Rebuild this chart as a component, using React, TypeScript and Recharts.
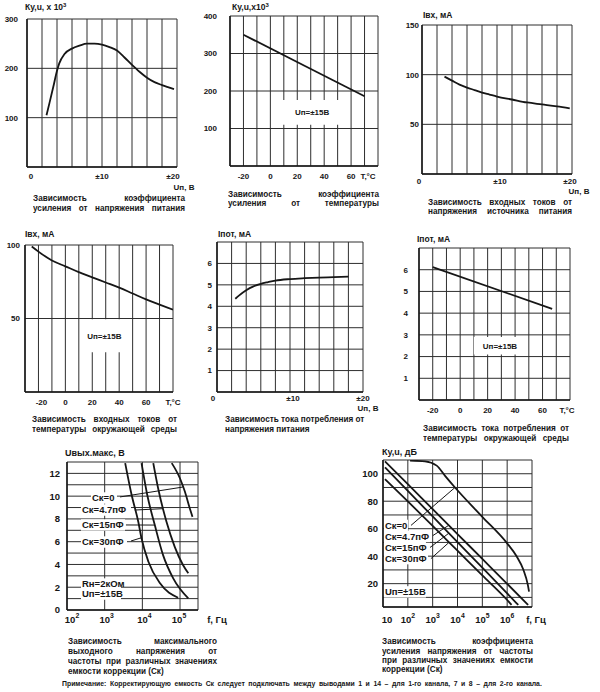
import React from 'react';
import { LineChart, Line, XAxis, YAxis, CartesianGrid, ReferenceArea, ReferenceLine, ReferenceDot } from 'recharts';

const FONT = '"Liberation Sans", Arial, Helvetica, sans-serif';
const INK = '#161616';
const GRID = '#2e2e2e';

// ---- values ----
// 1. Ку,u (x10^3) vs Uп, В
const unA = [2.6, 3, 3.5, 4, 4.3, 5, 6, 7, 8, 9, 10, 11, 12, 13, 14, 15, 16, 17, 18, 19.6];
const gainA = [105, 130, 162, 195, 210, 229, 240, 246, 250, 250, 248, 243, 236, 222, 207, 193, 181, 172, 166, 158];
// 2. Ку,u (x10^3) vs T, °C
const tB = [-20, 25, 70];
const gainB = [350, 268, 186];
// 3. Iвх, мА vs Uп
const unC = [3, 4, 5, 6, 7, 8, 9, 10, 12, 14, 16, 18, 19.7];
const inC = [98, 94, 90, 87, 84.5, 82, 80, 78, 75, 72, 70, 68, 66];
// 4. Iвх, мА vs T
const tD = [-25, -20, -10, 0, 10, 20, 30, 40, 50, 60, 70, 80];
const inD = [99, 95.5, 89.5, 85.5, 81.5, 78, 74.5, 71, 67, 63, 59.5, 56];
// 5. Iпот, мА vs Uп
const unE = [2.5, 3, 4, 5, 6, 7, 8, 10, 12, 14, 16, 18];
const iE = [4.35, 4.5, 4.75, 4.93, 5.05, 5.13, 5.2, 5.27, 5.31, 5.34, 5.36, 5.38];
// 6. Iпот, мА vs T
const tF = [-20, 67];
const iF = [6.12, 4.2];
// 7. Uвых.макс, В vs f, Гц (per Ск)
const fU30 = [3500, 5200, 7800, 9500, 14500, 29500, 89000];
const u30 = [12.9, 10.1, 7.75, 6.3, 4.24, 2.34, 1.08];
const fU15 = [9500, 13500, 21400, 35500, 66000, 166000];
const u15 = [12.9, 10.1, 7.46, 4.82, 2.78, 1.02];
const fU47 = [19500, 26300, 43700, 72400, 120000, 166000];
const u47 = [12.9, 10.67, 7.75, 5.55, 3.95, 3.22];
const fU0 = [60300, 100000, 135000, 182000, 214000];
const u0 = [12.9, 11.55, 10.38, 8.92, 8.18];
// 8. Ку,u, дБ vs f, Гц (per Ск)
const fK0 = [123, 490, 1450, 3160, 7940, 1e5, 1e6, 2.4e6, 4.5e6, 6.8e6, 7.6e6];
const k0 = [109.5, 109, 105.9, 98.5, 90, 68.6, 49.3, 39.9, 30.1, 19.1, 14.2];
const fK47 = [12, 100, 1000, 1e4, 1e5, 1e6, 7e6];
const k47 = [109, 92.4, 74.2, 56.1, 38, 19.9, 4.5];
const fK15 = [12, 100, 1000, 1e4, 1e5, 1e6, 2.8e6];
const k15 = [104.7, 87.6, 68.9, 50.2, 31.6, 12.9, 4.5];
const fK30 = [12, 100, 1000, 1e4, 1e5, 1e6, 1.5e6];
const k30 = [96.1, 79.9, 62, 44, 26, 8.1, 4.5];

const zip = (xs: number[], ys: number[]) => xs.map((x, i) => ({ x, y: ys[i] }));
const steps = (a: number, b: number, s: number) => {
  const out: number[] = [];
  for (let v = a; v <= b + 1e-9; v += s) out.push(Math.round(v * 100) / 100);
  return out;
};

const YW = 40;
const MT = 6;
const MR = 36;
const XH = 30;

type Box = { left: number; top: number; w: number; h: number };
type Tag = { x: number; y: number; text: string; w: number };

interface PanelProps {
  box: Box;
  log?: boolean;
  xDomain: [number, number];
  xTicks: number[];
  xLabels: Record<string, string>;
  xShift?: Record<string, number>;
  xGap: number;
  yDomain: [number, number];
  yTicks: number[];
  yFmt: (v: number) => string;
  yGap: number;
  size: number;
  series: { x: number; y: number }[][];
  curve?: 'monotone' | 'linear';
  boxes?: { x1: number; x2: number; y1: number; y2: number; text: string }[];
  arrows?: { x: number; y: number }[][];
  tags?: Tag[];
}

function makeTick(labels: Record<string, string>, shift: Record<string, number>, size: number) {
  return (props: any) => {
    const { x, y, payload } = props;
    const label = labels[String(payload.value)];
    if (!label) return <g />;
    const [base, sup] = label.split('^');
    return (
      <text x={x + (shift[String(payload.value)] || 0)} y={y} dy="0.71em" textAnchor="middle" fontSize={size} fontWeight={700} fill={INK}>
        {base}
        {sup && (
          <tspan dy={-size * 0.45} fontSize={size * 0.72}>
            {sup}
          </tspan>
        )}
      </text>
    );
  };
}

function tagShape(text: string, w: number, size: number) {
  return (p: any) => (
    <g>
      <rect x={p.cx - 1} y={p.cy - size * 0.6} width={w} height={size * 1.2} fill="#fff" />
      <text x={p.cx} y={p.cy} dy="0.35em" fontSize={size} fontWeight={700} fill={INK}>
        {text}
      </text>
    </g>
  );
}

function Panel(p: PanelProps) {
  const { box } = p;
  const axisLine = { stroke: INK, strokeWidth: 1.5 };
  return (
    <div style={{ position: 'absolute', left: box.left - YW, top: box.top - MT }}>
      <LineChart width={YW + box.w + MR} height={MT + box.h + XH} margin={{ top: MT, right: MR, bottom: 0, left: 0 }}>
        <CartesianGrid stroke={GRID} strokeWidth={1} />
        <XAxis
          type="number"
          dataKey="x"
          scale={p.log ? 'log' : 'linear'}
          domain={p.xDomain}
          ticks={p.xTicks}
          interval={0}
          allowDataOverflow
          height={XH}
          tickLine={false}
          tickSize={0}
          tickMargin={p.xGap}
          axisLine={axisLine}
          tick={makeTick(p.xLabels, p.xShift || {}, p.size)}
        />
        <YAxis
          type="number"
          domain={p.yDomain}
          ticks={p.yTicks}
          interval={0}
          allowDataOverflow
          width={YW}
          tickLine={false}
          tickSize={0}
          tickMargin={p.yGap}
          axisLine={axisLine}
          tick={{ fontSize: p.size, fontWeight: 700, fill: INK }}
          tickFormatter={p.yFmt}
        />
        {(p.boxes || []).map((b, i) => (
          <ReferenceArea
            key={'b' + i}
            x1={b.x1}
            x2={b.x2}
            y1={b.y1}
            y2={b.y2}
            fill="#fff"
            fillOpacity={1}
            stroke="none"
            label={{ value: b.text, position: 'center', fill: INK, fontSize: p.size, fontWeight: 700 }}
          />
        ))}
        {p.series.map((d, i) => (
          <Line
            key={'s' + i}
            data={d}
            dataKey="y"
            type={p.curve || 'monotone'}
            stroke={INK}
            strokeWidth={1.8}
            dot={false}
            isAnimationActive={false}
          />
        ))}
        {(p.arrows || []).map((seg, i) => (
          <ReferenceLine key={'a' + i} segment={seg} stroke={INK} strokeWidth={1} ifOverflow="visible" />
        ))}
        {(p.tags || []).map((t, i) => (
          <ReferenceDot key={'t' + i} x={t.x} y={t.y} r={0} ifOverflow="visible" shape={tagShape(t.text, t.w, p.size)} />
        ))}
      </LineChart>
    </div>
  );
}

function Txt({ x, y, size = 8, center = false, children }: { x: number; y: number; size?: number; center?: boolean; children: React.ReactNode }) {
  const lh = size + 1;
  return (
    <div
      style={{
        position: 'absolute',
        left: x,
        top: y - lh / 2,
        lineHeight: lh + 'px',
        fontSize: size,
        fontWeight: 700,
        whiteSpace: 'nowrap',
        color: INK,
        transform: center ? 'translateX(-50%)' : undefined,
      }}
    >
      {children}
    </div>
  );
}

// caption line: scan font is a little condensed, so the text is squeezed slightly
const CAP_SIZE = 8.8;
const CAP_SQUEEZE = 0.93;

function Caption({ x, w, y, text, justify, size = CAP_SIZE }: { x: number; w: number; y: number; text: string; justify: boolean; size?: number }) {
  const lh = size;
  return (
    <div
      style={{
        position: 'absolute',
        left: x,
        top: y - lh / 2,
        width: w / CAP_SQUEEZE,
        transform: `scaleX(${CAP_SQUEEZE})`,
        transformOrigin: '0 0',
        lineHeight: lh + 'px',
        fontSize: size,
        fontWeight: 700,
        color: INK,
        whiteSpace: 'nowrap',
        display: 'flex',
        justifyContent: justify ? 'space-between' : 'flex-start',
        gap: size * 0.28,
      }}
    >
      {text.split(' ').map((wd, i) => (
        <span key={i}>{wd}</span>
      ))}
    </div>
  );
}

const titles = [
  { x: 25, y: 8, t: 'Ку,u, x 10', sup: '3' },
  { x: 232, y: 8, t: 'Ку,u,x10', sup: '3' },
  { x: 423, y: 16, t: 'Iвх, мА' },
  { x: 25, y: 235, t: 'Iвх, мА' },
  { x: 218, y: 235, t: 'Iпот, мА' },
  { x: 417, y: 240, t: 'Iпот, мА' },
  { x: 65, y: 453, t: 'Uвых.макс, В', size: 9 },
  { x: 382, y: 452, t: 'Ку,u, дБ', size: 9 },
];

const unitLabels = [
  { x: 184, y: 187, t: 'Uп, В', size: 8 },
  { x: 579, y: 191, t: 'Uп, В', size: 8 },
  { x: 368, y: 408, t: 'Uп, В', size: 8 },
  { x: 217, y: 620, t: 'f, Гц', size: 9.5 },
  { x: 536, y: 620, t: 'f, Гц', size: 9.5 },
];

const captions: { x: number; w: number; ys: number[]; lines: [string, boolean][] }[] = [
  { x: 33, w: 152, ys: [198, 208], lines: [['Зависимость коэффициента', true], ['усиления от напряжения питания', true]] },
  { x: 228, w: 151, ys: [194, 203], lines: [['Зависимость коэффициента', true], ['усиления от температуры', true]] },
  { x: 428, w: 144, ys: [202, 211], lines: [['Зависимость входных токов от', true], ['напряжения источника питания', true]] },
  { x: 32, w: 145, ys: [419, 429], lines: [['Зависимость входных токов от', true], ['температуры окружающей среды', true]] },
  { x: 225, w: 138, ys: [419, 429], lines: [['Зависимость тока потребления от', true], ['напряжения питания', false]] },
  { x: 423, w: 146, ys: [428, 438], lines: [['Зависимость тока потребления от', true], ['температуры окружающей среды', true]] },
  {
    x: 68,
    w: 149,
    ys: [641, 651, 661, 671],
    lines: [['Зависимость максимального', true], ['выходного напряжения от', true], ['частоты при различных значениях', true], ['емкости коррекции (Ск)', false]],
  },
  {
    x: 382,
    w: 151,
    ys: [641, 651, 660, 669],
    lines: [['Зависимость коэффициента', true], ['усиления напряжения от частоты', true], ['при различных значениях емкости', true], ['коррекции (Ск)', false]],
  },
];

const note = 'Примечание: Корректирующую емкость Ск следует подключать между выводами 1 и 14 – для 1-го канала, 7 и 8 – для 2-го канала.';

const tempTicks = steps(-30, 80, 10);
const tempLabels = { '-20': '-20', '0': '0', '20': '20', '40': '40', '60': '60', '80': 'T,°C' };
const supplyLabels = { '0': '0', '10': '±10', '20': '±20' };
const hide0 = (v: number) => (v === 0 ? '' : String(v));
const upTo = (max: number) => (v: number) => (v === 0 || v >= max ? '' : String(v));

export default function App() {
  return (
    <div style={{ position: 'absolute', left: 0, top: 0, width: 600, height: 692, background: '#fff', fontFamily: FONT, overflow: 'hidden' }}>
      <Panel
        box={{ left: 27, top: 19, w: 150, h: 148 }}
        xDomain={[0, 20]}
        xTicks={steps(0, 20, 2)}
        xLabels={supplyLabels}
        xShift={{ '0': 4, '20': -4 }}
        xGap={6}
        yDomain={[0, 300]}
        yTicks={[0, 100, 200, 300]}
        yFmt={hide0}
        yGap={9}
        size={8}
        series={[zip(unA, gainA)]}
      />
      <Panel
        box={{ left: 230, top: 16, w: 148, h: 150 }}
        xDomain={[-30, 80]}
        xTicks={tempTicks}
        xLabels={tempLabels}
        xShift={{ '80': -10 }}
        xGap={7}
        yDomain={[0, 400]}
        yTicks={[0, 100, 200, 300, 400]}
        yFmt={hide0}
        yGap={13}
        size={8}
        curve="linear"
        series={[zip(tB, gainB)]}
        boxes={[{ x1: 9, x2: 53, y1: 110, y2: 176, text: 'Uп=±15В' }]}
      />
      <Panel
        box={{ left: 422, top: 25, w: 150, h: 149 }}
        xDomain={[0, 20]}
        xTicks={steps(0, 20, 2)}
        xLabels={supplyLabels}
        xShift={{ '0': -3, '10': 3, '20': -2 }}
        xGap={4}
        yDomain={[0, 150]}
        yTicks={[0, 50, 100, 150]}
        yFmt={hide0}
        yGap={3}
        size={8}
        series={[zip(unC, inC)]}
      />
      <Panel
        box={{ left: 25, top: 245, w: 148, h: 147 }}
        xDomain={[-30, 80]}
        xTicks={tempTicks}
        xLabels={tempLabels}
        xShift={{ '-20': 3 }}
        xGap={7}
        yDomain={[0, 100]}
        yTicks={[0, 50, 100]}
        yFmt={hide0}
        yGap={5}
        size={8}
        series={[zip(tD, inD)]}
        boxes={[{ x1: 12, x2: 46, y1: 27, y2: 49.5, text: 'Uп=±15В' }]}
      />
      <Panel
        box={{ left: 217, top: 242, w: 146, h: 150 }}
        xDomain={[0, 20]}
        xTicks={steps(0, 20, 2)}
        xLabels={supplyLabels}
        xShift={{ '0': -4, '10': 3 }}
        xGap={3}
        yDomain={[0, 7]}
        yTicks={steps(0, 7, 1)}
        yFmt={upTo(7)}
        yGap={5}
        size={8}
        series={[zip(unE, iE)]}
      />
      <Panel
        box={{ left: 419, top: 248, w: 151, h: 152 }}
        xDomain={[-30, 80]}
        xTicks={tempTicks}
        xLabels={tempLabels}
        xShift={{ '80': -3 }}
        xGap={7}
        yDomain={[0, 7]}
        yTicks={steps(0, 7, 1)}
        yFmt={upTo(7)}
        yGap={11}
        size={8}
        curve="linear"
        series={[zip(tF, iF)]}
        boxes={[{ x1: 10, x2: 48, y1: 2.1, y2: 2.9, text: 'Uп=±15В' }]}
      />
      <Panel
        box={{ left: 67, top: 462, w: 131, h: 148 }}
        log
        xDomain={[100, 300000]}
        xTicks={[100, 1000, 10000, 100000, 300000]}
        xLabels={{ '100': '10^2', '1000': '10^3', '10000': '10^4', '100000': '10^5' }}
        xShift={{ '100': 5, '1000': 2, '10000': 2, '100000': -1 }}
        xGap={6}
        yDomain={[0, 13]}
        yTicks={steps(0, 13, 1)}
        yFmt={(v) => (v % 2 === 0 && v < 13 ? String(v) : '')}
        yGap={7}
        size={9.5}
        series={[zip(fU30, u30), zip(fU15, u15), zip(fU47, u47), zip(fU0, u0)]}
        arrows={[
          [{ x: 2550, y: 9.93 }, { x: 119000, y: 10.8 }],
          [{ x: 6300, y: 8.78 }, { x: 35200, y: 8.9 }],
          [{ x: 3670, y: 7.47 }, { x: 21400, y: 7.46 }],
          [{ x: 5000, y: 6.06 }, { x: 9500, y: 6.35 }],
        ]}
        tags={[
          { x: 460, y: 9.84, text: 'Ск=0', w: 26 },
          { x: 250, y: 8.78, text: 'Ск=4.7пФ', w: 50 },
          { x: 250, y: 7.47, text: 'Ск=15пФ', w: 44 },
          { x: 250, y: 5.97, text: 'Ск=30пФ', w: 46 },
          { x: 250, y: 2.28, text: 'Rн=2кОм', w: 40 },
          { x: 250, y: 1.4, text: 'Uп=±15В', w: 40 },
        ]}
      />
      <Panel
        box={{ left: 383, top: 460, w: 149, h: 147 }}
        log
        xDomain={[10, 1e7]}
        xTicks={[10, 100, 1000, 1e4, 1e5, 1e6, 1e7]}
        xLabels={{ '10': '10', '100': '10^2', '1000': '10^3', '10000': '10^4', '100000': '10^5', '1000000': '10^6' }}
        xShift={{ '10': 4 }}
        xGap={9}
        yDomain={[3, 110]}
        yTicks={steps(10, 110, 10)}
        yFmt={(v) => (v % 20 === 0 && v < 110 ? String(v) : '')}
        yGap={5}
        size={9.5}
        series={[zip(fK0, k0), zip(fK47, k47), zip(fK15, k15), zip(fK30, k30)]}
        arrows={[
          [{ x: 134, y: 62.4 }, { x: 7940, y: 90 }],
          [{ x: 1020, y: 55 }, { x: 4470, y: 62.5 }],
          [{ x: 780, y: 46.3 }, { x: 4470, y: 56.7 }],
          [{ x: 850, y: 38.2 }, { x: 4470, y: 49.9 }],
        ]}
        tags={[
          { x: 12, y: 62.4, text: 'Ск=0', w: 24 },
          { x: 12, y: 54.3, text: 'Ск=4.7пФ', w: 46 },
          { x: 12, y: 46.3, text: 'Ск=15пФ', w: 42 },
          { x: 12, y: 38.2, text: 'Ск=30пФ', w: 44 },
          { x: 12, y: 14, text: 'Uп=±15В', w: 42 },
        ]}
      />

      {titles.map((t, i) => (
        <Txt key={'ti' + i} x={t.x} y={t.y} size={t.size || 8.5}>
          {t.t}
          {t.sup && <sup style={{ fontSize: '0.7em', verticalAlign: '0.5em', lineHeight: 0 }}>{t.sup}</sup>}
        </Txt>
      ))}
      {unitLabels.map((u, i) => (
        <Txt key={'u' + i} x={u.x} y={u.y} size={u.size} center>
          {u.t}
        </Txt>
      ))}
      {captions.map((c, i) =>
        c.lines.map(([text, justify], j) => (
          <Caption key={'c' + i + '-' + j} x={c.x} w={c.w} y={c.ys[j]} text={text} justify={justify} />
        ))
      )}
      <Caption x={62} w={480} y={684} text={note} justify size={7.4} />
    </div>
  );
}
